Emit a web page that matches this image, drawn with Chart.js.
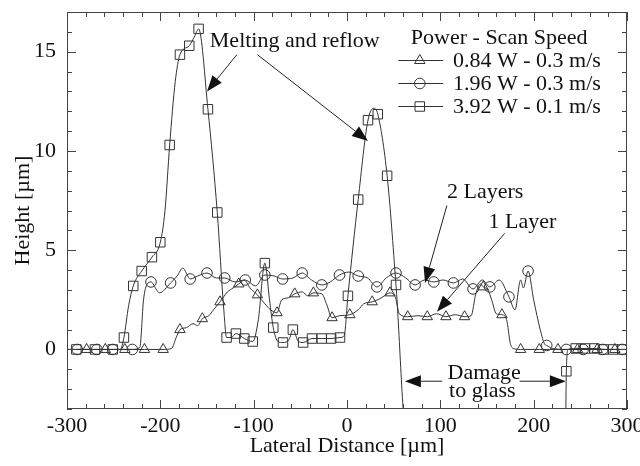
<!DOCTYPE html>
<html>
<head>
<meta charset="utf-8">
<script src="https://cdn.jsdelivr.net/npm/chart.js@4"></script>
<style>
  body { margin: 0; background: #fff; }
</style>
</head>
<body>
<canvas id="profileChart" width="640" height="466"></canvas>
<script>
const xTicks = [-300, -200, -100, 0, 100, 200, 300];
const yTicks = [0, 5, 10, 15];

// ===== 0.84 W - 0.3 m/s (triangles) =====
const triX = [-300, -279, -259, -238, -217, -197, -188, -183, -179, -172, -165, -160, -155, -148, -143, -136,
    -128, -122, -116, -110, -104, -96, -88, -82, -75, -70, -63, -56, -48, -42, -36, -27, -22, -16, -8, 3,
    12, 18, 27, 35, 40, 46, 52, 56, 65, 76, 86, 96, 106, 116, 126, 133, 138, 143, 146, 151, 155, 160, 166,
    171, 175, 178, 186, 206, 226, 247, 268, 287, 300];
const triY = [0, 0, 0, 0, 0, 0, 0.05, 0.6, 1.0, 1.1, 1.3, 1.2, 1.55, 1.7, 2.0, 2.4,
    2.9, 3.1, 3.3, 3.5, 3.1, 2.75, 2.3, 2.0, 1.85, 2.5, 2.6, 2.8, 2.9, 2.7, 2.85, 2.8, 2.3, 1.6, 1.7, 1.75,
    2.0, 2.3, 2.4, 2.55, 2.7, 2.85, 2.6, 1.8, 1.65, 1.7, 1.65, 1.8, 1.65, 1.75, 1.65, 1.7, 2.8, 3.3, 3.15, 3.0, 2.5, 1.8, 1.75,
    1.5, 0.3, 0.05, 0, 0, 0, 0, 0, 0, 0];
const triMark = [0, 1, 1, 1, 1, 1, 0, 0, 1, 0, 0, 0, 1, 0, 0, 1,
    0, 0, 1, 0, 0, 1, 0, 0, 1, 0, 0, 1, 0, 0, 1, 0, 0, 1, 0, 1,
    0, 0, 1, 0, 0, 1, 0, 0, 1, 0, 1, 0, 1, 0, 1, 0, 0, 0, 1, 0, 0, 0, 1,
    0, 0, 0, 1, 1, 1, 1, 1, 1, 0];

// ===== 1.96 W - 0.3 m/s (circles) =====
const cirX = [-300, -289, -268, -251, -230, -222, -218, -214, -210, -204, -201, -189, -182, -176, -168, -160,
    -150, -140, -131, -120, -109, -98, -88, -78, -69, -58, -48, -38, -27, -18, -8, 2, 12, 22, 32, 42, 52.5,
    63, 73, 83, 93, 103, 114, 124, 135, 145, 153, 163, 173.5, 180, 186, 189, 194, 200, 207, 212, 214, 220,
    235, 253, 274, 295, 300];
const cirY = [0, 0, 0, 0, 0, 0.1, 2.5, 3.3, 3.4, 3.0, 2.85, 3.35, 3.7, 4.1, 3.55, 3.7,
    3.85, 3.6, 3.6, 3.4, 3.5, 3.2, 3.75, 3.7, 3.55, 3.6, 3.85, 3.5, 3.25, 3.4, 3.75, 3.9, 3.7, 3.6, 3.15, 3.6, 3.85,
    3.6, 3.25, 3.5, 3.4, 3.5, 3.35, 3.55, 3.05, 3.5, 3.15, 3.5, 2.65, 2.0, 3.5, 3.1, 3.95, 2.5, 1.0, 0.25, 0.2, 0.05,
    0, 0, 0, 0, 0];
const cirMark = [0, 1, 1, 1, 1, 0, 0, 0, 1, 0, 0, 1, 0, 0, 1, 0,
    1, 0, 1, 0, 1, 0, 1, 0, 1, 0, 1, 0, 1, 0, 1, 0, 1, 0, 1, 0, 1,
    0, 1, 0, 1, 0, 1, 0, 1, 0, 1, 0, 1, 0, 0, 0, 1, 0, 0, 0, 1, 0,
    1, 1, 1, 1, 0];

// ===== 3.92 W - 0.1 m/s (squares) =====
const sqX = [-300, -290, -270, -251, -243, -239, -234, -229, -220, -209, -200, -195, -190, -184, -179, -169,
    -163, -159, -149, -139, -132, -129, -124, -119, -110, -101, -95, -88, -83, -79, -74, -68.6, -62, -58, -52,
    -47, -37.5, -27, -17, -7.5, -3, 1, 12, 22.5, 29, 33, 43, 52.5, 64, 234, 235, 237, 245, 255, 265, 275, 285,
    295, 300];
const sqY = [0, 0, 0, 0, 0, 0.6, 2.2, 3.2, 3.95, 4.65, 5.4, 7.0, 10.3, 13.5, 14.85, 15.3,
    15.8, 16.15, 12.1, 6.9, 2.0, 0.6, 0.6, 0.8, 0.55, 0.4, 1.5, 4.35, 2.5, 1.1, 0.4, 0.35, 0.5, 1.0, 0.4,
    0.35, 0.55, 0.55, 0.55, 0.6, 0.7, 2.7, 7.55, 11.55, 12.15, 11.85, 8.75, 3.25, -4.5, -4.5, -1.1, 0, 0.05, 0.05, 0.05, 0, 0,
    0, 0];
const sqMark = [0, 1, 1, 1, 0, 1, 0, 1, 1, 1, 1, 0, 1, 0, 1, 1,
    0, 1, 1, 1, 0, 1, 0, 1, 1, 1, 0, 1, 0, 1, 0, 1, 0, 1, 0,
    1, 1, 1, 1, 1, 0, 1, 1, 1, 0, 1, 1, 1, 0, 0, 1, 0, 1, 1, 1, 1, 1,
    1, 0];

const legendLabels = ["0.84 W - 0.3 m/s", "1.96 W - 0.3 m/s", "3.92 W - 0.1 m/s"];
const legendTitle = "Power - Scan Speed";

const FONT = "'Liberation Serif', 'Times New Roman', serif";
const INK = "#111";
const LINE = "#333";

function toPoints(xs, ys) {
    return xs.map((x, i) => ({ x: x, y: ys[i] }));
}

function makeSet(label, xs, ys, marks, style, size) {
    return {
        label: label,
        data: toPoints(xs, ys),
        borderColor: LINE,
        borderWidth: 1,
        backgroundColor: "rgba(0,0,0,0)",
        pointStyle: style,
        pointRadius: ctx => marks[ctx.dataIndex] ? size : 0,
        pointBorderColor: LINE,
        pointBorderWidth: 1,
        pointBackgroundColor: "rgba(0,0,0,0)",
        cubicInterpolationMode: "monotone",
        fill: false
    };
}

/* ===== ANNOTATIONS (data coords) ===== */
const notes = [
    { text: "Melting and reflow", x: -56, y: 15.25 },
    { text: "2 Layers", x: 148, y: 7.65 },
    { text: "1 Layer", x: 188, y: 6.1 },
    { text: "Damage", x: 147, y: -1.5 },
    { text: "to glass", x: 145, y: -2.4 }
];
const arrows = [
    { from: [-118, 14.85], to: [-150, 13.0] },
    { from: [-96, 14.85], to: [22.5, 10.5] },
    { from: [107, 7.25], to: [83.6, 3.35] },
    { from: [169, 5.85], to: [96.4, 1.9] },
    { from: [102, -1.6], to: [62, -1.6] },
    { from: [185, -1.6], to: [234.5, -1.6] }
];

function drawMarker(ctx, style, x, y, r) {
    ctx.beginPath();
    if (style === "rect") {
        const s = Math.SQRT1_2 * r;
        ctx.rect(x - s, y - s, 2 * s, 2 * s);
    } else if (style === "circle") {
        ctx.arc(x, y, r, 0, Math.PI * 2);
    } else {
        for (let k = 0; k < 3; k++) {
            const a = k * 2 * Math.PI / 3;
            const px = x + Math.sin(a) * r, py = y - Math.cos(a) * r;
            k ? ctx.lineTo(px, py) : ctx.moveTo(px, py);
        }
        ctx.closePath();
    }
    ctx.stroke();
}

const framePlugin = {
    id: "frame",
    afterDraw(chart) {
        const ctx = chart.ctx;
        const xs = chart.scales.x, ys = chart.scales.y;
        const a = chart.chartArea;
        ctx.save();

        // box + inward ticks
        ctx.strokeStyle = "#444";
        ctx.lineWidth = 1;
        ctx.strokeRect(a.left + 0.5, a.top + 0.5, a.right - a.left - 1, a.bottom - a.top - 1);
        ctx.beginPath();
        for (let v = -300; v <= 300; v += 20) {
            const px = Math.round(xs.getPixelForValue(v)) + 0.5;
            const len = v % 100 === 0 ? 9 : 5;
            ctx.moveTo(px, a.bottom); ctx.lineTo(px, a.bottom - len);
            ctx.moveTo(px, a.top); ctx.lineTo(px, a.top + len);
        }
        for (let v = -3; v <= 17; v += 1) {
            const py = Math.round(ys.getPixelForValue(v)) + 0.5;
            const len = v % 5 === 0 ? 9 : 5;
            ctx.moveTo(a.left, py); ctx.lineTo(a.left + len, py);
            ctx.moveTo(a.right, py); ctx.lineTo(a.right - len, py);
        }
        ctx.stroke();

        // text notes
        ctx.fillStyle = INK;
        ctx.font = "22px " + FONT;
        ctx.textAlign = "center";
        ctx.textBaseline = "alphabetic";
        notes.forEach(n => {
            ctx.fillText(n.text, xs.getPixelForValue(n.x), ys.getPixelForValue(n.y));
        });

        // arrows
        ctx.strokeStyle = "#222";
        arrows.forEach(ar => {
            const x0 = xs.getPixelForValue(ar.from[0]), y0 = ys.getPixelForValue(ar.from[1]);
            const x1 = xs.getPixelForValue(ar.to[0]), y1 = ys.getPixelForValue(ar.to[1]);
            const ang = Math.atan2(y1 - y0, x1 - x0);
            const hl = 16, hw = 6;
            const bx = x1 - Math.cos(ang) * hl, by = y1 - Math.sin(ang) * hl;
            ctx.beginPath();
            ctx.moveTo(x0, y0); ctx.lineTo(bx, by);
            ctx.stroke();
            ctx.beginPath();
            ctx.moveTo(x1, y1);
            ctx.lineTo(bx + Math.sin(ang) * hw, by - Math.cos(ang) * hw);
            ctx.lineTo(bx - Math.sin(ang) * hw, by + Math.cos(ang) * hw);
            ctx.closePath();
            ctx.fillStyle = "#111";
            ctx.fill();
        });

        // legend
        const styles = ["triangle", "circle", "rect"];
        const sizes = [6, 5.3, 6.7];
        const lx0 = xs.getPixelForValue(55), lx1 = xs.getPixelForValue(103);
        const mx = xs.getPixelForValue(78), tx = xs.getPixelForValue(113.5);
        const rowY = [14.6, 13.4, 12.25];
        ctx.fillStyle = INK;
        ctx.font = "22px " + FONT;
        ctx.textAlign = "center";
        ctx.fillText(legendTitle, xs.getPixelForValue(163), ys.getPixelForValue(15.4));
        ctx.textAlign = "left";
        ctx.textBaseline = "middle";
        ctx.strokeStyle = LINE;
        legendLabels.forEach((lab, i) => {
            const py = Math.round(ys.getPixelForValue(rowY[i])) + 0.5;
            ctx.beginPath();
            ctx.moveTo(lx0, py); ctx.lineTo(lx1, py);
            ctx.stroke();
            drawMarker(ctx, styles[i], mx, py, sizes[i]);
            ctx.fillText(lab, tx, py + 1);
        });
        ctx.restore();
    }
};

new Chart(document.getElementById("profileChart"), {
    type: "line",
    data: {
        datasets: [
            makeSet(legendLabels[0], triX, triY, triMark, "triangle", 6),
            makeSet(legendLabels[1], cirX, cirY, cirMark, "circle", 5.3),
            makeSet(legendLabels[2], sqX, sqY, sqMark, "rect", 6.7)
        ]
    },
    options: {
        responsive: false,
        animation: false,
        layout: { padding: { top: 12, right: 13, left: 0, bottom: 0 } },
        plugins: { legend: { display: false }, tooltip: { enabled: false } },
        scales: {
            x: {
                type: "linear",
                min: -300,
                max: 300,
                afterBuildTicks: s => { s.ticks = xTicks.map(v => ({ value: v })); },
                afterFit: s => { s.height = 57; s.paddingLeft = 0; s.paddingRight = 0; },
                grid: { display: false, drawTicks: false },
                border: { display: false },
                ticks: { color: INK, font: { family: FONT, size: 22 }, padding: 4, maxRotation: 0 },
                title: { display: true, text: "Lateral Distance [µm]", color: INK,
                         font: { family: FONT, size: 22 }, padding: { top: 0, bottom: 7 } }
            },
            y: {
                min: -3,
                max: 17,
                afterBuildTicks: s => { s.ticks = yTicks.map(v => ({ value: v })); },
                afterFit: s => { s.width = 67; s.paddingTop = 0; s.paddingBottom = 0; },
                grid: { display: false, drawTicks: false },
                border: { display: false },
                ticks: { color: INK, font: { family: FONT, size: 22 }, padding: 11 },
                title: { display: true, text: "Height [µm]", color: INK,
                         font: { family: FONT, size: 22 }, padding: { top: 10, bottom: 0 } }
            }
        }
    },
    plugins: [framePlugin]
});
</script>
</body>
</html>
